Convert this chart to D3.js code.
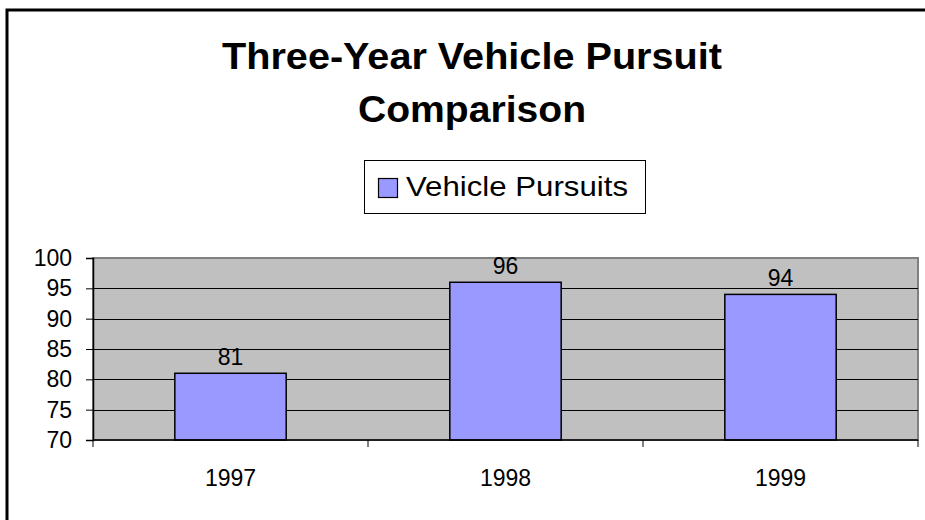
<!DOCTYPE html>
<html>
<head>
<meta charset="utf-8">
<script src="https://cdn.jsdelivr.net/npm/d3@7"></script>
<style>
  body { margin: 0; background: #fff; }
  svg { display: block; }
</style>
</head>
<body>
<svg id="chart" width="925" height="520"></svg>
<script>
// data
const years = ['1997', '1998', '1999'];
const pursuits = [81, 96, 94];
const yTicks = [70, 75, 80, 85, 90, 95, 100];
const titleLines = ['Three-Year Vehicle Pursuit', 'Comparison'];
const seriesName = 'Vehicle Pursuits';

const svg = d3.select('#chart');
const font = 'Liberation Sans, Arial, sans-serif';

// outer chart frame (runs off the right/bottom of the picture)
svg.append('rect')
  .attr('x', 7).attr('y', 10)
  .attr('width', 940).attr('height', 540)
  .attr('fill', '#fff')
  .attr('stroke', '#000')
  .attr('stroke-width', 3);

// title -- the original text is a bit wider than Liberation, so stretch it
const titleLen = [500, 228];
svg.append('g').selectAll('text')
  .data(titleLines)
  .enter().append('text')
  .attr('x', 472)
  .attr('y', (d, i) => 69 + i * 53)
  .attr('text-anchor', 'middle')
  .attr('font-family', font)
  .attr('font-weight', 'bold')
  .attr('font-size', 37)
  .attr('textLength', (d, i) => titleLen[i])
  .attr('lengthAdjust', 'spacingAndGlyphs')
  .text(d => d);

// legend
const legend = svg.append('g').attr('class', 'legend');
legend.append('rect')
  .attr('x', 364.5).attr('y', 160.5)
  .attr('width', 281).attr('height', 53)
  .attr('fill', '#fff').attr('stroke', '#000').attr('stroke-width', 1);
legend.append('rect')
  .attr('x', 378.5).attr('y', 178.5)
  .attr('width', 19).attr('height', 19)
  .attr('fill', '#9999ff').attr('stroke', '#000').attr('stroke-width', 1.2);
legend.append('text')
  .attr('x', 406).attr('y', 196)
  .attr('font-family', font)
  .attr('font-size', 28)
  .attr('textLength', 222)
  .attr('lengthAdjust', 'spacingAndGlyphs')
  .text(seriesName);

// plot area
const plot = { left: 93, right: 918, top: 258, bottom: 440 };

const x = d3.scaleBand()
  .domain(years)
  .range([plot.left, plot.right])
  .paddingInner(0)
  .paddingOuter(0);

const y = d3.scaleLinear()
  .domain([70, 100])
  .range([plot.bottom, plot.top]);

svg.append('rect')
  .attr('x', plot.left).attr('y', plot.top)
  .attr('width', plot.right - plot.left)
  .attr('height', plot.bottom - plot.top)
  .attr('fill', '#c0c0c0')
  .attr('stroke', '#808080')
  .attr('stroke-width', 2);

// gridlines
svg.append('g')
  .selectAll('line')
  .data(yTicks.filter(t => t > 70 && t < 100))
  .enter().append('line')
  .attr('x1', plot.left).attr('x2', plot.right)
  .attr('y1', d => Math.round(y(d)) + 0.5)
  .attr('y2', d => Math.round(y(d)) + 0.5)
  .attr('stroke', '#000')
  .attr('stroke-width', 1);

const rows = years.map((yr, i) => ({ yr: yr, v: pursuits[i] }));

// bars
const barW = x.bandwidth() * 0.405;
svg.append('g')
  .selectAll('rect')
  .data(rows)
  .enter().append('rect')
  .attr('x', d => x(d.yr) + (x.bandwidth() - barW) / 2)
  .attr('y', d => y(d.v))
  .attr('width', barW)
  .attr('height', d => y(70) - y(d.v))
  .attr('fill', '#9999ff')
  .attr('stroke', '#000')
  .attr('stroke-width', 1.5);

// value labels
svg.append('g')
  .selectAll('text')
  .data(rows)
  .enter().append('text')
  .attr('x', d => x(d.yr) + x.bandwidth() / 2)
  .attr('y', d => y(d.v) - 8)
  .attr('text-anchor', 'middle')
  .attr('font-family', font)
  .attr('font-size', 23)
  .text(d => d.v);

// y axis
svg.append('g')
  .attr('transform', `translate(${plot.left},0)`)
  .call(d3.axisLeft(y).tickValues(yTicks).tickSize(7).tickPadding(14))
  .call(g => g.select('.domain').attr('stroke', '#000').attr('stroke-width', 1.5))
  .call(g => g.selectAll('.tick line').attr('stroke', '#000'))
  .call(g => g.selectAll('.tick text')
    .attr('font-family', font)
    .attr('font-size', 23)
    .attr('fill', '#000'));

// x axis with boundary ticks
const xAxis = svg.append('g')
  .attr('transform', `translate(0,${plot.bottom})`);
xAxis.append('line')
  .attr('x1', plot.left).attr('x2', plot.right)
  .attr('stroke', '#000').attr('stroke-width', 1.5);
xAxis.selectAll('line.bound')
  .data(years.map(yr => x(yr)).concat([plot.right]))
  .enter().append('line')
  .attr('class', 'bound')
  .attr('x1', d => d).attr('x2', d => d)
  .attr('y1', 0).attr('y2', 7)
  .attr('stroke', '#000');
xAxis.selectAll('text')
  .data(years)
  .enter().append('text')
  .attr('x', d => x(d) + x.bandwidth() / 2)
  .attr('y', 46)
  .attr('text-anchor', 'middle')
  .attr('font-family', font)
  .attr('font-size', 23)
  .text(d => d);
</script>
</body>
</html>
